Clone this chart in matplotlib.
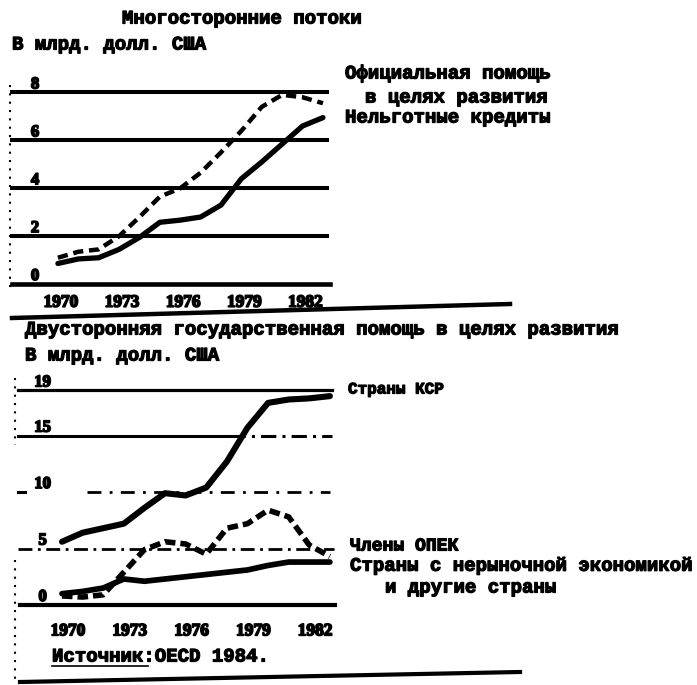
import matplotlib

matplotlib.use("Agg")
import matplotlib.pyplot as plt
import matplotlib.patheffects as pe
import matplotlib.transforms as mtransforms
from matplotlib.lines import Line2D

W, H = 697, 685

years = list(range(1970, 1984))
year_ticks = [1970, 1973, 1976, 1979, 1982]

# Многосторонние потоки, млрд. долл. США
oda_multi = [1.1, 1.35, 1.45, 2.0, 2.8, 3.65, 4.0, 4.65, 5.5, 6.4, 7.4, 7.9, 7.8, 7.55]
concessional = [0.86, 1.05, 1.1, 1.45, 1.95, 2.58, 2.67, 2.8, 3.3, 4.4, 5.1, 5.85, 6.6, 6.95]
top_ticks = [0, 2, 4, 6, 8]

# Двусторонняя помощь, млрд. долл. США
dac = [5.6, 6.4, 6.8, 7.2, 8.6, 9.9, 9.7, 10.4, 12.7, 15.7, 17.9, 18.2, 18.3, 18.5]
opec = [0.8, 0.7, 0.9, 2.9, 4.9, 5.6, 5.4, 4.5, 6.8, 7.2, 8.4, 7.8, 5.3, 4.3]
nonmarket = [1.0, 1.2, 1.5, 2.3, 2.1, 2.3, 2.5, 2.7, 2.9, 3.1, 3.5, 3.8, 3.8, 3.8]
bottom_ticks = [0, 5, 10, 15, 19]

MONO = "Liberation Mono"
SERIF = "Liberation Serif"
INK = "black"
# typewriter ink is heavier than the font, so thicken the glyphs a little
HEAVY = [pe.withStroke(linewidth=0.9, foreground=INK)]

fig = plt.figure(figsize=(W / 100, H / 100), dpi=100)


def px_axes(left, top, right, bottom):
    return fig.add_axes([left / W, 1 - bottom / H, (right - left) / W, (bottom - top) / H])


def ftext(x, y, s, size=13.7, **kw):
    fig.text(x / W, 1 - y / H, s, fontsize=size, family=MONO, fontweight="bold",
             va="center", ha="left", color=INK, path_effects=HEAVY, **kw)


def fline(xs, ys, **kw):
    fig.add_artist(Line2D([x / W for x in xs], [1 - y / H for y in ys],
                          transform=fig.transFigure, color=INK, **kw))


def style_axes(ax, pad, shift_px):
    for s in ax.spines.values():
        s.set_visible(False)
    ax.set_yticks([])
    ax.set_xticks(year_ticks)
    ax.set_xticklabels([str(y) for y in year_ticks], family=SERIF,
                       fontweight="bold", fontsize=12.5)
    ax.tick_params(axis="x", length=0, pad=pad)
    off = mtransforms.ScaledTranslation(shift_px / 100, 0, fig.dpi_scale_trans)
    for lab in ax.get_xticklabels():
        lab.set_transform(lab.get_transform() + off)
        lab.set_path_effects([pe.withStroke(linewidth=1.2, foreground=INK)])
    ax.patch.set_alpha(0)


# --- top panel ---
ax1 = px_axes(10, 80, 335, 292)
ax1.set_xlim(1967.65, 1983.59)
ax1.set_ylim(-0.33, 8.52)
for v in top_ticks:
    ax1.axhline(v, xmin=0.006, xmax=0.985 if v == 0 else 0.975, color=INK,
                lw=3.3 if v == 0 else 2.9, zorder=1)
    ax1.text(0.077, v, str(v), transform=ax1.get_yaxis_transform(), ha="center",
             va="bottom", family=SERIF, fontweight="bold", fontsize=12,
             path_effects=[pe.withStroke(linewidth=1.2, foreground=INK)])
ax1.plot(years, concessional, color=INK, lw=3.8, solid_capstyle="round", zorder=3)
ax1.plot(years, oda_multi, color=INK, lw=3.2, dashes=(2.3, 1.3), zorder=3)
style_axes(ax1, pad=2, shift_px=3)

# --- bottom panel ---
ax2 = px_axes(15, 375, 340, 615)
ax2.set_xlim(1967.72, 1983.49)
ax2.set_ylim(-0.89, 20.37)
ax2.axhline(19, xmin=0.009, xmax=0.975, color=INK, lw=2.3, zorder=1)
ax2.axhline(15, xmin=0.009, xmax=0.66, color=INK, lw=2.2, zorder=1)
ax2.axhline(15, xmin=0.66, xmax=0.975, color=INK, lw=2.2, dashes=(5, 2, 1, 2), zorder=1)
ax2.axhline(10, xmin=0.009, xmax=0.03, color=INK, lw=2.2, zorder=1)
ax2.axhline(10, xmin=0.22, xmax=0.97, color=INK, lw=2.0, dashes=(5, 3, 1, 3), zorder=1)
ax2.axhline(5, xmin=0.009, xmax=0.98, color=INK, lw=2.0, dashes=(5, 2, 1, 2), zorder=1)
ax2.axhline(0, xmin=0.015, xmax=0.985, color=INK, lw=3.0, zorder=1)
for v in bottom_ticks:
    ax2.text(0.085, v, str(v), transform=ax2.get_yaxis_transform(), ha="center",
             va="bottom", family=SERIF, fontweight="bold", fontsize=12,
             path_effects=[pe.withStroke(linewidth=1.2, foreground=INK)])
ax2.plot(years, dac, color=INK, lw=4.4, solid_capstyle="round", zorder=3)
ax2.plot(years, nonmarket, color=INK, lw=4.1, solid_capstyle="round", zorder=3)
ax2.plot(years, opec, color=INK, lw=4.0, dashes=(1.9, 0.9), zorder=3)
style_axes(ax2, pad=6, shift_px=6)

# --- texts ---
ftext(122, 19, "Многосторонние потоки")
ftext(12, 45, "В млрд. долл. США")
ftext(345, 74, "Официальная помощь")
ftext(365, 98, "в целях развития")
ftext(345, 118, "Нельготные кредиты")

ftext(25, 330, "Двусторонняя государственная помощь в целях развития")
ftext(25, 356, "В млрд. долл. США")
ftext(348, 389, "Страны КСР", size=11.5)
ftext(350, 546, "Члены ОПЕК", size=13)
ftext(350, 566, "Страны с нерыночной экономикой")
ftext(385, 588, "и другие страны")
ftext(52, 657, "Источник:OECD 1984.")

# rules of the scanned page
fline([12, 510], [318, 304], lw=3.2)
fline([52, 148], [666, 666], lw=1.2)
fline([20, 520], [682, 672], lw=3.0)
fline([10, 10], [85, 292], lw=1.5, linestyle=(0, (1, 3)))
fline([15, 15], [378, 445], lw=1.5, linestyle=(0, (1, 3)))
fline([15, 15], [560, 680], lw=1.5, linestyle=(0, (1, 3)))

fig.savefig("out.png", dpi=100)
